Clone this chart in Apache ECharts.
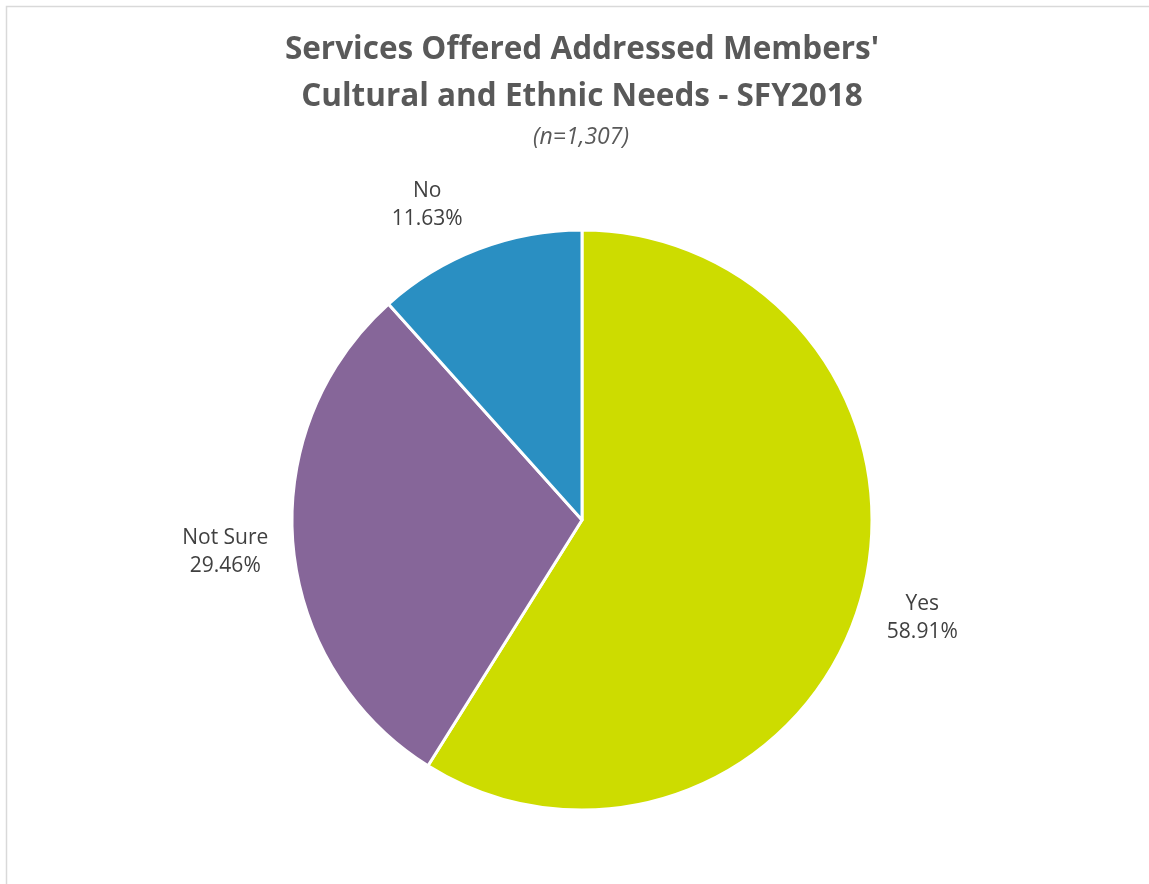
<!DOCTYPE html>
<html>
<head>
<meta charset="utf-8">
<script src="https://cdn.jsdelivr.net/npm/echarts@6/dist/echarts.min.js"></script>
<style>
  html, body { margin: 0; padding: 0; background: #ffffff; }
  #chart { width: 1149px; height: 884px; }
</style>
</head>
<body>
<div id="chart"></div>
<script>
// Survey response shares
const categories = ['Yes', 'Not Sure', 'No'];
const shares = [58.91, 29.46, 11.63];
const sliceColors = ['#cddc00', '#866699', '#2a8fc2'];

const titleLines = ["Services Offered Addressed Members'", 'Cultural and Ethnic Needs - SFY2018'];
const subtitle = '(n=1,307)';

const pieCenter = [582, 520];
const pieRadius = 290;
const labelDistance = 352;
// small per-label nudges (px) applied after radial placement
const labelNudge = [[2, 1], [-6, 2], [-29, 14]];

const total = shares.reduce((a, b) => a + b, 0);
// mid-angle of each slice, clockwise from 12 o'clock
const midAngles = [];
let acc = 0;
shares.forEach(v => {
  midAngles.push((acc + v / 2) / total * 2 * Math.PI);
  acc += v;
});

const chart = echarts.init(document.getElementById('chart'), null, { renderer: 'canvas' });

chart.setOption({
  backgroundColor: '#ffffff',
  animation: false,
  graphic: [
    {
      type: 'rect',
      shape: { x: 6.5, y: 6.5, width: 1200, height: 1000 },
      style: { fill: 'none', stroke: '#d9d9d9', lineWidth: 1.5 },
      silent: true
    },
    {
      type: 'text',
      x: 582, y: 50,
      style: {
        text: titleLines[0], fill: '#595959',
        font: 'bold 31.5px "Open Sans"', textAlign: 'center', textVerticalAlign: 'middle'
      }
    },
    {
      type: 'text',
      x: 582, y: 97,
      style: {
        text: titleLines[1], fill: '#595959',
        font: 'bold 31.5px "Open Sans"', textAlign: 'center', textVerticalAlign: 'middle'
      }
    },
    {
      type: 'text',
      x: 581, y: 137,
      style: {
        text: subtitle, fill: '#595959',
        font: 'italic 23px "Open Sans"', textAlign: 'center', textVerticalAlign: 'middle'
      }
    }
  ],
  series: [{
    type: 'pie',
    center: pieCenter,
    radius: pieRadius,
    startAngle: 90,
    clockwise: true,
    data: categories.map((c, i) => ({
      name: c,
      value: shares[i],
      itemStyle: { color: sliceColors[i] }
    })),
    itemStyle: { borderColor: '#ffffff', borderWidth: 3 },
    label: {
      show: true,
      position: 'outside',
      formatter: p => p.name + '\n' + shares[p.dataIndex].toFixed(2) + '%',
      fontFamily: 'Open Sans',
      fontSize: 21,
      lineHeight: 28,
      color: '#404040'
    },
    labelLine: { show: false },
    labelLayout: params => {
      const i = params.dataIndex;
      const a = midAngles[i];
      return {
        x: pieCenter[0] + labelDistance * Math.sin(a) + labelNudge[i][0],
        y: pieCenter[1] - labelDistance * Math.cos(a) + labelNudge[i][1],
        align: 'center',
        verticalAlign: 'middle'
      };
    },
    emphasis: { disabled: true }
  }]
});
</script>
</body>
</html>
